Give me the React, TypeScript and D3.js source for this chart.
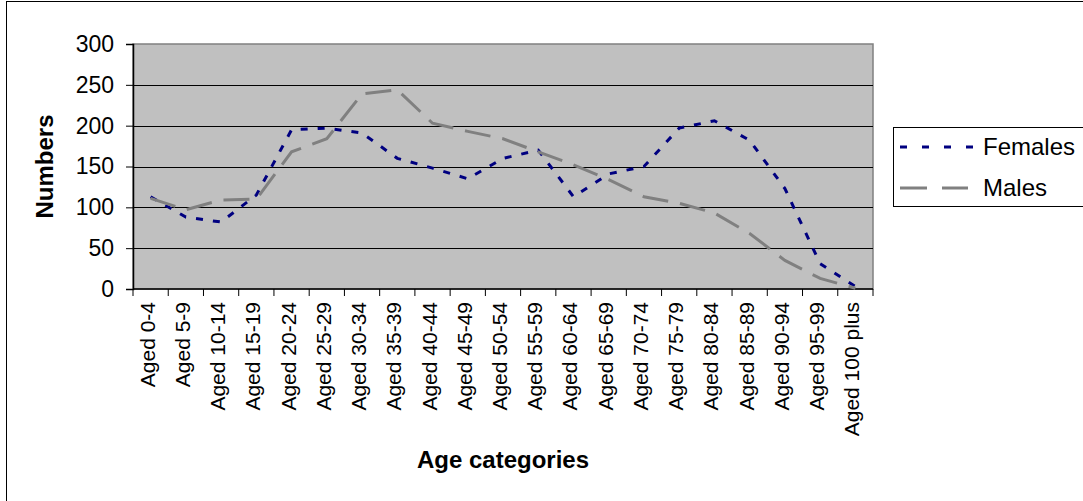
import React, { useRef, useEffect } from 'react';
import * as d3 from 'd3';

const categories = [
  'Aged 0-4', 'Aged 5-9', 'Aged 10-14', 'Aged 15-19', 'Aged 20-24', 'Aged 25-29',
  'Aged 30-34', 'Aged 35-39', 'Aged 40-44', 'Aged 45-49', 'Aged 50-54', 'Aged 55-59',
  'Aged 60-64', 'Aged 65-69', 'Aged 70-74', 'Aged 75-79', 'Aged 80-84', 'Aged 85-89',
  'Aged 90-94', 'Aged 95-99', 'Aged 100 plus',
];

const females = [113, 88, 82, 115, 195, 197, 191, 160, 148, 135, 160, 170, 113, 141, 150, 197, 206, 182, 123, 31, 3];
const males = [111, 97, 109, 110, 168, 184, 239, 244, 203, 193, 184, 168, 152, 134, 113, 105, 93, 68, 35, 13, 1];

const yTicks = [0, 50, 100, 150, 200, 250, 300];

const series = [
  { name: 'Females', values: females, color: '#000080', dash: '7,10' },
  { name: 'Males', values: males, color: '#808080', dash: '26,12' },
];

const W = 1083;
const H = 501;
const plot = { left: 133, top: 44, right: 873, bottom: 289 };
const FONT = 'Arial, "Liberation Sans", Helvetica, sans-serif';

export default function App() {
  const ref = useRef<SVGSVGElement>(null);

  useEffect(() => {
    if (!ref.current) return;
    const svg = d3.select(ref.current);
    svg.selectAll('*').remove();

    const x = d3.scaleBand<string>().domain(categories).range([plot.left, plot.right]).padding(0);
    const y = d3.scaleLinear().domain([0, 300]).range([plot.bottom, plot.top]);
    const cx = (c: string) => (x(c) as number) + x.bandwidth() / 2;

    // outer chart border
    svg.append('rect')
      .attr('x', 6.5).attr('y', 1.5)
      .attr('width', W + 20).attr('height', H + 20)
      .attr('fill', '#fff').attr('stroke', '#000').attr('stroke-width', 1);

    // plot area
    svg.append('rect')
      .attr('x', plot.left).attr('y', plot.top)
      .attr('width', plot.right - plot.left).attr('height', plot.bottom - plot.top)
      .attr('fill', '#c0c0c0').attr('stroke', '#808080').attr('stroke-width', 1.5);

    // gridlines
    svg.append('g').selectAll('line')
      .data(yTicks.filter(d => d > 0 && d < 300))
      .enter().append('line')
      .attr('x1', plot.left).attr('x2', plot.right)
      .attr('y1', d => Math.round(y(d)) + 0.5).attr('y2', d => Math.round(y(d)) + 0.5)
      .attr('stroke', '#000').attr('stroke-width', 1);

    // y axis
    const yAxis = svg.append('g').attr('transform', `translate(${plot.left},0)`)
      .call(d3.axisLeft(y).tickValues(yTicks).tickSize(7).tickPadding(12));
    yAxis.select('.domain').attr('stroke', '#000').attr('stroke-width', 1.5);
    yAxis.selectAll('text').attr('font-family', FONT).attr('font-size', 23).attr('fill', '#000');

    // x axis: ticks on category boundaries
    const boundaries = categories.map(c => x(c) as number).concat([plot.right]);
    svg.append('line')
      .attr('x1', plot.left).attr('x2', plot.right)
      .attr('y1', plot.bottom).attr('y2', plot.bottom)
      .attr('stroke', '#000').attr('stroke-width', 1.5);
    svg.append('g').selectAll('line')
      .data(boundaries).enter().append('line')
      .attr('x1', d => d).attr('x2', d => d)
      .attr('y1', plot.bottom).attr('y2', plot.bottom + 7)
      .attr('stroke', '#000').attr('stroke-width', 1);
    svg.append('g').selectAll('text')
      .data(categories).enter().append('text')
      .attr('transform', d => `translate(${cx(d) + 4},${plot.bottom + 13}) rotate(-90)`)
      .attr('text-anchor', 'end')
      .attr('font-family', FONT).attr('font-size', 21).attr('fill', '#000')
      .text(d => d);

    // lines
    const line = d3.line<number>()
      .x((_, i) => cx(categories[i]))
      .y(d => y(d));
    series.forEach(s => {
      svg.append('path')
        .datum(s.values)
        .attr('d', line)
        .attr('fill', 'none')
        .attr('stroke', s.color)
        .attr('stroke-width', 3)
        .attr('stroke-dasharray', s.dash);
    });

    // axis titles
    svg.append('text')
      .attr('transform', `translate(53,${(plot.top + plot.bottom) / 2}) rotate(-90)`)
      .attr('text-anchor', 'middle')
      .attr('font-family', FONT).attr('font-size', 24).attr('font-weight', 'bold')
      .text('Numbers');
    svg.append('text')
      .attr('x', (plot.left + plot.right) / 2).attr('y', 468)
      .attr('text-anchor', 'middle')
      .attr('font-family', FONT).attr('font-size', 24).attr('font-weight', 'bold')
      .text('Age categories');

    // legend
    const lg = svg.append('g');
    lg.append('rect')
      .attr('x', 893.5).attr('y', 127.5).attr('width', 220).attr('height', 79)
      .attr('fill', '#fff').attr('stroke', '#000').attr('stroke-width', 1);
    const legendDash = ['7,15', '27,15'];
    series.forEach((s, i) => {
      const ly = 147 + i * 41;
      lg.append('line')
        .attr('x1', 900).attr('x2', i === 0 ? 977 : 968)
        .attr('y1', ly).attr('y2', ly)
        .attr('stroke', s.color).attr('stroke-width', 3)
        .attr('stroke-dasharray', legendDash[i]);
      lg.append('text')
        .attr('x', 983).attr('y', ly + 8)
        .attr('font-family', FONT).attr('font-size', 24).attr('fill', '#000')
        .text(s.name);
    });
  }, []);

  return (
    <svg ref={ref} width={W} height={H}
      style={{ position: 'absolute', left: 0, top: 0, background: '#fff' }} />
  );
}
